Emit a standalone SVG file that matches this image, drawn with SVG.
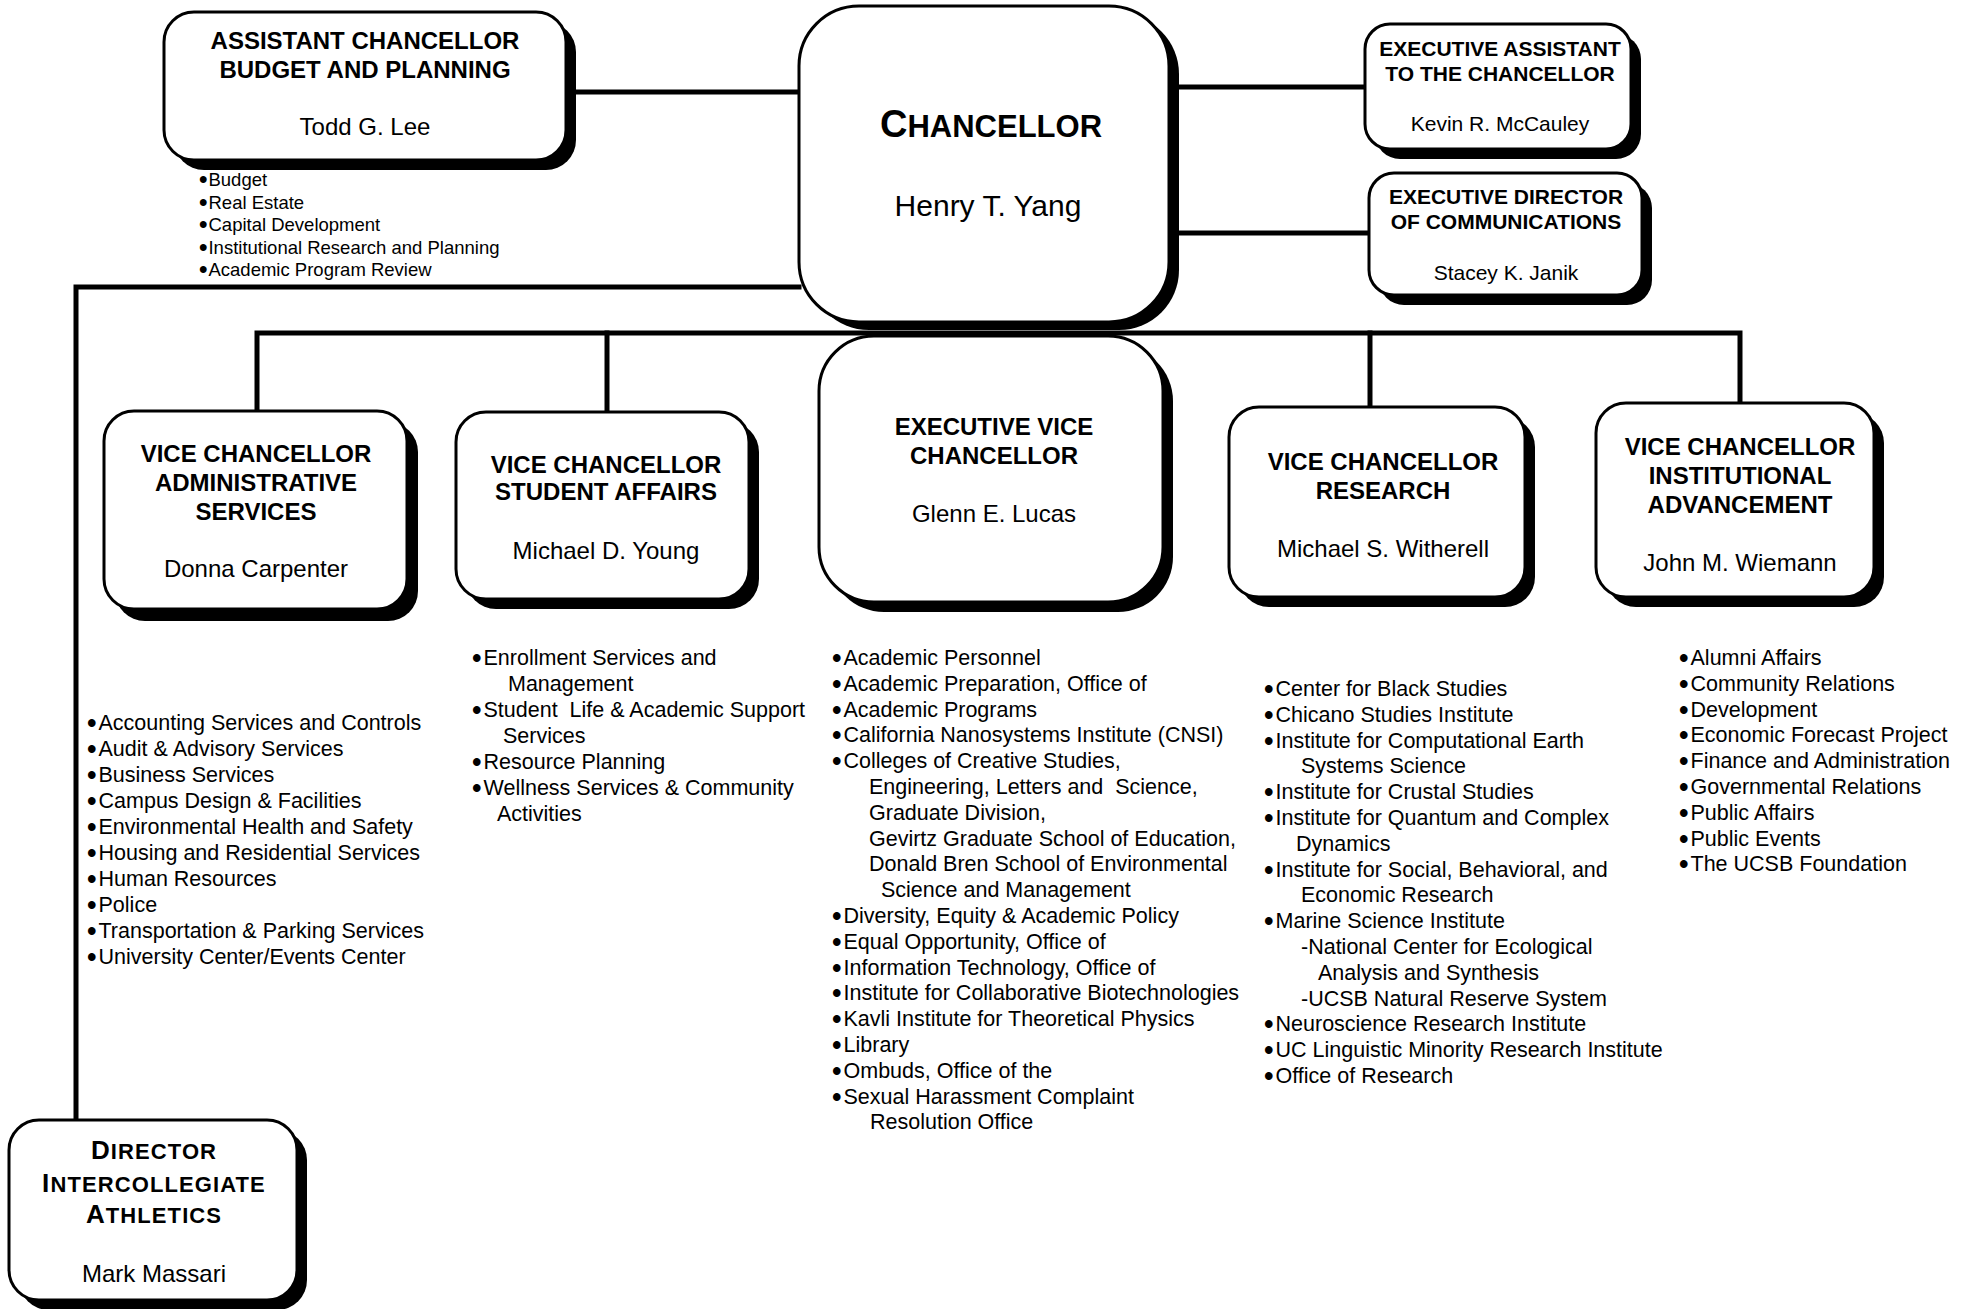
<svg xmlns="http://www.w3.org/2000/svg" width="1969" height="1309" viewBox="0 0 1969 1309">
<style>
.bg{fill:#fff}
.box{fill:#fff;stroke:#000;stroke-width:3}
.sh{fill:#000}
.ln{stroke:#000;stroke-width:5;fill:none;stroke-linecap:square}
text{font-family:"Liberation Sans",Arial,sans-serif;fill:#000}
.ti{font-weight:bold;font-size:24px;text-anchor:middle}
.tis{font-weight:bold;font-size:21px;text-anchor:middle}
.nm{font-size:24px;text-anchor:middle}
.nmb{font-size:30px;text-anchor:middle}
.nms{font-size:21px;text-anchor:middle}
.li{font-size:21.5px;white-space:pre}
.lis{font-size:18.5px;white-space:pre}
.b{stroke:#000;stroke-width:1.8}
</style>
<rect class="bg" x="0" y="0" width="1969" height="1309"/>
<g id="connectors">
<path class="ln" d="M566 92 H799"/>
<path class="ln" d="M799 287 H76 V1120"/>
<path class="ln" d="M1169 87 H1365"/>
<path class="ln" d="M1169 233 H1369"/>
<path class="ln" d="M257 411 V333 H1740 V403"/>
<path class="ln" d="M607 333 V412"/>
<path class="ln" d="M1370 333 V407"/>
</g>
<g id="asst-chancellor">
<rect class="sh" x="174" y="22" width="402" height="148" rx="30"/>
<rect class="box" x="164" y="12" width="402" height="148" rx="30"/>
<text class="ti" x="365" y="49">ASSISTANT CHANCELLOR</text>
<text class="ti" x="365" y="78">BUDGET AND PLANNING</text>
<text class="nm" x="365" y="135">Todd G. Lee</text>
<text class="lis"><tspan x="200" y="186"><tspan class="b">•</tspan><tspan dx="2">Budget</tspan></tspan><tspan x="200" y="208.6"><tspan class="b">•</tspan><tspan dx="2">Real Estate</tspan></tspan><tspan x="200" y="231.2"><tspan class="b">•</tspan><tspan dx="2">Capital Development</tspan></tspan><tspan x="200" y="253.8"><tspan class="b">•</tspan><tspan dx="2">Institutional Research and Planning</tspan></tspan><tspan x="200" y="276.4"><tspan class="b">•</tspan><tspan dx="2">Academic Program Review</tspan></tspan></text>
</g>
<g id="chancellor">
<rect class="sh" x="809" y="14" width="370" height="316" rx="60"/>
<rect class="box" x="799" y="6" width="370" height="316" rx="60"/>
<text class="ti" x="991" y="137"><tspan font-size="38">C</tspan><tspan font-size="31">HANCELLOR</tspan></text>
<text class="nmb" x="988" y="216">Henry T. Yang</text>
</g>
<g id="exec-assistant">
<rect class="sh" x="1375" y="34" width="266" height="125" rx="25"/>
<rect class="box" x="1365" y="24" width="266" height="125" rx="25"/>
<text class="tis" x="1500" y="56">EXECUTIVE ASSISTANT</text>
<text class="tis" x="1500" y="81">TO THE CHANCELLOR</text>
<text class="nms" x="1500" y="131">Kevin R. McCauley</text>
</g>
<g id="exec-director">
<rect class="sh" x="1379" y="183" width="273" height="122" rx="25"/>
<rect class="box" x="1369" y="173" width="273" height="122" rx="25"/>
<text class="tis" x="1506" y="204">EXECUTIVE DIRECTOR</text>
<text class="tis" x="1506" y="229">OF COMMUNICATIONS</text>
<text class="nms" x="1506" y="280">Stacey K. Janik</text>
</g>
<g id="vc-admin">
<rect class="sh" x="115" y="422" width="303" height="199" rx="30"/>
<rect class="box" x="104" y="411" width="303" height="198" rx="30"/>
<text class="ti" x="256" y="462">VICE CHANCELLOR</text>
<text class="ti" x="256" y="491">ADMINISTRATIVE</text>
<text class="ti" x="256" y="520">SERVICES</text>
<text class="nm" x="256" y="577">Donna Carpenter</text>
<text class="li"><tspan x="88" y="730"><tspan class="b">•</tspan><tspan dx="3">Accounting Services and Controls</tspan></tspan><tspan x="88" y="756"><tspan class="b">•</tspan><tspan dx="3">Audit &amp; Advisory Services</tspan></tspan><tspan x="88" y="782"><tspan class="b">•</tspan><tspan dx="3">Business Services</tspan></tspan><tspan x="88" y="808"><tspan class="b">•</tspan><tspan dx="3">Campus Design &amp; Facilities</tspan></tspan><tspan x="88" y="834"><tspan class="b">•</tspan><tspan dx="3">Environmental Health and Safety</tspan></tspan><tspan x="88" y="860"><tspan class="b">•</tspan><tspan dx="3">Housing and Residential Services</tspan></tspan><tspan x="88" y="886"><tspan class="b">•</tspan><tspan dx="3">Human Resources</tspan></tspan><tspan x="88" y="912"><tspan class="b">•</tspan><tspan dx="3">Police</tspan></tspan><tspan x="88" y="938"><tspan class="b">•</tspan><tspan dx="3">Transportation &amp; Parking Services</tspan></tspan><tspan x="88" y="964"><tspan class="b">•</tspan><tspan dx="3">University Center/Events Center</tspan></tspan></text>
</g>
<g id="vc-student">
<rect class="sh" x="466" y="422" width="293" height="187" rx="30"/>
<rect class="box" x="456" y="412" width="293" height="187" rx="30"/>
<text class="ti" x="606" y="473">VICE CHANCELLOR</text>
<text class="ti" x="606" y="500">STUDENT AFFAIRS</text>
<text class="nm" x="606" y="559">Michael D. Young</text>
<text class="li"><tspan x="473" y="665"><tspan class="b">•</tspan><tspan dx="3">Enrollment Services and</tspan></tspan><tspan x="508" y="691">Management</tspan><tspan x="473" y="717"><tspan class="b">•</tspan><tspan dx="3">Student  Life &amp; Academic Support</tspan></tspan><tspan x="503" y="743">Services</tspan><tspan x="473" y="769"><tspan class="b">•</tspan><tspan dx="3">Resource Planning</tspan></tspan><tspan x="473" y="795"><tspan class="b">•</tspan><tspan dx="3">Wellness Services &amp; Community</tspan></tspan><tspan x="497" y="821">Activities</tspan></text>
</g>
<g id="evc">
<rect class="sh" x="829" y="346" width="344" height="266" rx="55"/>
<rect class="box" x="819" y="336" width="344" height="266" rx="55"/>
<text class="ti" x="994" y="435">EXECUTIVE VICE</text>
<text class="ti" x="994" y="464">CHANCELLOR</text>
<text class="nm" x="994" y="522">Glenn E. Lucas</text>
<text class="li"><tspan x="833" y="665"><tspan class="b">•</tspan><tspan dx="3">Academic Personnel</tspan></tspan><tspan x="833" y="690.8"><tspan class="b">•</tspan><tspan dx="3">Academic Preparation, Office of</tspan></tspan><tspan x="833" y="716.6"><tspan class="b">•</tspan><tspan dx="3">Academic Programs</tspan></tspan><tspan x="833" y="742.4"><tspan class="b">•</tspan><tspan dx="3">California Nanosystems Institute (CNSI)</tspan></tspan><tspan x="833" y="768.2"><tspan class="b">•</tspan><tspan dx="3">Colleges of Creative Studies,</tspan></tspan><tspan x="869" y="794">Engineering, Letters and  Science,</tspan><tspan x="869" y="819.8">Graduate Division,</tspan><tspan x="869" y="845.6">Gevirtz Graduate School of Education,</tspan><tspan x="869" y="871.4">Donald Bren School of Environmental</tspan><tspan x="881" y="897.2">Science and Management</tspan><tspan x="833" y="923"><tspan class="b">•</tspan><tspan dx="3">Diversity, Equity &amp; Academic Policy</tspan></tspan><tspan x="833" y="948.8"><tspan class="b">•</tspan><tspan dx="3">Equal Opportunity, Office of</tspan></tspan><tspan x="833" y="974.6"><tspan class="b">•</tspan><tspan dx="3">Information Technology, Office of</tspan></tspan><tspan x="833" y="1000.4"><tspan class="b">•</tspan><tspan dx="3">Institute for Collaborative Biotechnologies</tspan></tspan><tspan x="833" y="1026.2"><tspan class="b">•</tspan><tspan dx="3">Kavli Institute for Theoretical Physics</tspan></tspan><tspan x="833" y="1052"><tspan class="b">•</tspan><tspan dx="3">Library</tspan></tspan><tspan x="833" y="1077.8"><tspan class="b">•</tspan><tspan dx="3">Ombuds, Office of the</tspan></tspan><tspan x="833" y="1103.6"><tspan class="b">•</tspan><tspan dx="3">Sexual Harassment Complaint</tspan></tspan><tspan x="870" y="1129.4">Resolution Office</tspan></text>
</g>
<g id="vc-research">
<rect class="sh" x="1239" y="417" width="296" height="190" rx="30"/>
<rect class="box" x="1229" y="407" width="296" height="190" rx="30"/>
<text class="ti" x="1383" y="470">VICE CHANCELLOR</text>
<text class="ti" x="1383" y="499">RESEARCH</text>
<text class="nm" x="1383" y="557">Michael S. Witherell</text>
<text class="li"><tspan x="1265" y="696"><tspan class="b">•</tspan><tspan dx="3">Center for Black Studies</tspan></tspan><tspan x="1265" y="721.8"><tspan class="b">•</tspan><tspan dx="3">Chicano Studies Institute</tspan></tspan><tspan x="1265" y="747.6"><tspan class="b">•</tspan><tspan dx="3">Institute for Computational Earth</tspan></tspan><tspan x="1301" y="773.4">Systems Science</tspan><tspan x="1265" y="799.2"><tspan class="b">•</tspan><tspan dx="3">Institute for Crustal Studies</tspan></tspan><tspan x="1265" y="825"><tspan class="b">•</tspan><tspan dx="3">Institute for Quantum and Complex</tspan></tspan><tspan x="1296" y="850.8">Dynamics</tspan><tspan x="1265" y="876.6"><tspan class="b">•</tspan><tspan dx="3">Institute for Social, Behavioral, and</tspan></tspan><tspan x="1301" y="902.4">Economic Research</tspan><tspan x="1265" y="928.2"><tspan class="b">•</tspan><tspan dx="3">Marine Science Institute</tspan></tspan><tspan x="1301" y="954">-National Center for Ecological</tspan><tspan x="1318" y="979.8">Analysis and Synthesis</tspan><tspan x="1301" y="1005.6">-UCSB Natural Reserve System</tspan><tspan x="1265" y="1031.4"><tspan class="b">•</tspan><tspan dx="3">Neuroscience Research Institute</tspan></tspan><tspan x="1265" y="1057.2"><tspan class="b">•</tspan><tspan dx="3">UC Linguistic Minority Research Institute</tspan></tspan><tspan x="1265" y="1083"><tspan class="b">•</tspan><tspan dx="3">Office of Research</tspan></tspan></text>
</g>
<g id="vc-advancement">
<rect class="sh" x="1606" y="413" width="278" height="194" rx="30"/>
<rect class="box" x="1596" y="403" width="278" height="194" rx="30"/>
<text class="ti" x="1740" y="455">VICE CHANCELLOR</text>
<text class="ti" x="1740" y="484">INSTITUTIONAL</text>
<text class="ti" x="1740" y="513">ADVANCEMENT</text>
<text class="nm" x="1740" y="571">John M. Wiemann</text>
<text class="li"><tspan x="1680" y="665"><tspan class="b">•</tspan><tspan dx="3">Alumni Affairs</tspan></tspan><tspan x="1680" y="690.8"><tspan class="b">•</tspan><tspan dx="3">Community Relations</tspan></tspan><tspan x="1680" y="716.6"><tspan class="b">•</tspan><tspan dx="3">Development</tspan></tspan><tspan x="1680" y="742.4"><tspan class="b">•</tspan><tspan dx="3">Economic Forecast Project</tspan></tspan><tspan x="1680" y="768.2"><tspan class="b">•</tspan><tspan dx="3">Finance and Administration</tspan></tspan><tspan x="1680" y="794"><tspan class="b">•</tspan><tspan dx="3">Governmental Relations</tspan></tspan><tspan x="1680" y="819.8"><tspan class="b">•</tspan><tspan dx="3">Public Affairs</tspan></tspan><tspan x="1680" y="845.6"><tspan class="b">•</tspan><tspan dx="3">Public Events</tspan></tspan><tspan x="1680" y="871.4"><tspan class="b">•</tspan><tspan dx="3">The UCSB Foundation</tspan></tspan></text>
</g>
<g id="athletics">
<rect class="sh" x="19" y="1130" width="288" height="180" rx="30"/>
<rect class="box" x="9" y="1120" width="288" height="180" rx="30"/>
<text class="ti" x="154" y="1159" letter-spacing="1.1"><tspan font-size="26">D</tspan><tspan font-size="22">IRECTOR</tspan></text>
<text class="ti" x="154" y="1192" letter-spacing="1.1"><tspan font-size="26">I</tspan><tspan font-size="22">NTERCOLLEGIATE</tspan></text>
<text class="ti" x="154" y="1223" letter-spacing="1.1"><tspan font-size="26">A</tspan><tspan font-size="22">THLETICS</tspan></text>
<text class="nm" x="154" y="1282">Mark Massari</text>
</g>
</svg>
